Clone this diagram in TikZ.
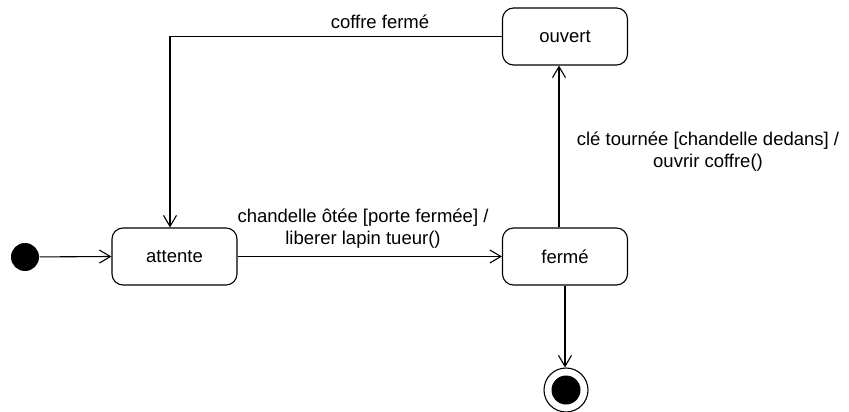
\documentclass[tikz,border=0pt]{standalone}
\usepackage{fontspec}
\setmainfont{Liberation Sans}
\usetikzlibrary{arrows.meta}
\begin{document}
\begin{tikzpicture}[x=1pt,y=-1pt,
  font=\fontsize{18.5}{22}\selectfont,
  line width=1.1pt,
  state/.style={draw, rounded corners=11pt, minimum width=125pt, minimum height=57pt, inner sep=0pt},
  trans/.style={-{Straight Barb[length=11pt,width=13pt,line width=1.1pt]}},
  lbl/.style={align=center, inner sep=0pt}]
\clip (0,0) rectangle (849,412);
\fill[white] (0,0) rectangle (849,412);
\node[circle, fill=black, minimum size=28pt, inner sep=0pt] (init) at (25,257) {};
\node[state] (attente) at (174.5,256.5) {attente};
\node[state] (ferme) at (565,256.5) {fermé};
\node[state] (ouvert) at (565,36.5) {ouvert};
\node[circle, draw, minimum size=44pt, inner sep=0pt] (final) at (566,390) {};
\node[circle, fill=black, minimum size=29pt, inner sep=0pt] (finalin) at (final.center) {};
\draw[trans] (init) -- (attente.west);
\draw[trans] (attente.east) -- (ferme.west);
\draw[trans] ([xshift=-6pt]ferme.north) -- ([xshift=-6pt]ouvert.south);
\draw[trans] (ouvert.west) -| ([xshift=-4.5pt]attente.north);
\draw[trans] (ferme.south) -- (ferme.south |- final.north);
\node[lbl] (l1) at (380,22) {coffre fermé};
\node[lbl] (l2) at (363,229) {chandelle ôtée [porte fermée] /\\liberer lapin tueur()};
\node[lbl] (l3) at (708,152) {clé tournée [chandelle dedans] /\\ouvrir coffre()};
\end{tikzpicture}
\end{document}
